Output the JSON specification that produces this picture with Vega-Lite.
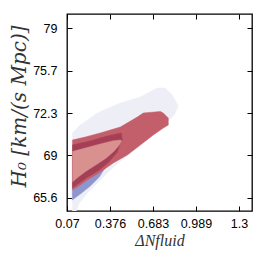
{
  "$schema": "https://vega.github.io/schema/vega-lite/v6.json",
  "width": 185,
  "height": 197,
  "autosize": "none",
  "padding": {"left": 67, "top": 14, "right": 14, "bottom": 55},
  "background": "white",
  "config": {
    "view": {"stroke": "black", "strokeWidth": 1.3},
    "axis": {
      "grid": false,
      "domain": false,
      "tickColor": "black",
      "tickSize": -5,
      "tickWidth": 1,
      "labelFont": "Liberation Sans",
      "labelFontSize": 12.5,
      "labelColor": "black",
      "labelFlush": false,
      "titleFont": "Liberation Serif",
      "titleFontStyle": "italic",
      "titleFontWeight": "normal",
      "titleColor": "#333"
    }
  },
  "data": {
    "values": [
      {"g": "lav", "i": 0, "x": 0.1078, "y": 64.55},
      {"g": "lav", "i": 1, "x": 0.1078, "y": 70.72},
      {"g": "lav", "i": 2, "x": 0.1648, "y": 71.35},
      {"g": "lav", "i": 3, "x": 0.286, "y": 72.3},
      {"g": "lav", "i": 4, "x": 0.45, "y": 73.09},
      {"g": "lav", "i": 5, "x": 0.5925, "y": 73.57},
      {"g": "lav", "i": 6, "x": 0.7137, "y": 74.28},
      {"g": "lav", "i": 7, "x": 0.7707, "y": 74.28},
      {"g": "lav", "i": 8, "x": 0.8206, "y": 73.72},
      {"g": "lav", "i": 9, "x": 0.8633, "y": 72.85},
      {"g": "lav", "i": 10, "x": 0.8348, "y": 72.14},
      {"g": "lav", "i": 11, "x": 0.735, "y": 71.11},
      {"g": "lav", "i": 12, "x": 0.6424, "y": 70.16},
      {"g": "lav", "i": 13, "x": 0.5212, "y": 69.14},
      {"g": "lav", "i": 14, "x": 0.3929, "y": 67.95},
      {"g": "lav", "i": 15, "x": 0.2931, "y": 66.84},
      {"g": "lav", "i": 16, "x": 0.2147, "y": 65.97},
      {"g": "lav", "i": 17, "x": 0.1577, "y": 65.18},
      {"g": "lav", "i": 18, "x": 0.1363, "y": 64.55},

      {"g": "blue", "i": 0, "x": 0.1078, "y": 69.37},
      {"g": "blue", "i": 1, "x": 0.1078, "y": 65.42},
      {"g": "blue", "i": 2, "x": 0.1648, "y": 65.89},
      {"g": "blue", "i": 3, "x": 0.2361, "y": 66.53},
      {"g": "blue", "i": 4, "x": 0.3002, "y": 67.24},
      {"g": "blue", "i": 5, "x": 0.3359, "y": 67.87},
      {"g": "blue", "i": 6, "x": 0.3644, "y": 68.58},
      {"g": "blue", "i": 7, "x": 0.3074, "y": 69.37},

      {"g": "red", "i": 0, "x": 0.1078, "y": 70.16},
      {"g": "red", "i": 1, "x": 0.2004, "y": 70.4},
      {"g": "red", "i": 2, "x": 0.3074, "y": 70.72},
      {"g": "red", "i": 3, "x": 0.45, "y": 71.19},
      {"g": "red", "i": 4, "x": 0.5711, "y": 71.98},
      {"g": "red", "i": 5, "x": 0.6139, "y": 72.3},
      {"g": "red", "i": 6, "x": 0.735, "y": 72.42},
      {"g": "red", "i": 7, "x": 0.7564, "y": 72.3},
      {"g": "red", "i": 8, "x": 0.7921, "y": 71.9},
      {"g": "red", "i": 9, "x": 0.7921, "y": 71.35},
      {"g": "red", "i": 10, "x": 0.7564, "y": 71.11},
      {"g": "red", "i": 11, "x": 0.6851, "y": 70.56},
      {"g": "red", "i": 12, "x": 0.5925, "y": 69.77},
      {"g": "red", "i": 13, "x": 0.5, "y": 68.98},
      {"g": "red", "i": 14, "x": 0.4, "y": 68.35},
      {"g": "red", "i": 15, "x": 0.3074, "y": 67.63},
      {"g": "red", "i": 16, "x": 0.2147, "y": 67.0},
      {"g": "red", "i": 17, "x": 0.1434, "y": 66.45},
      {"g": "red", "i": 18, "x": 0.1078, "y": 66.21},

      {"g": "dark", "i": 0, "x": 0.1078, "y": 69.77},
      {"g": "dark", "i": 1, "x": 0.2361, "y": 70.09},
      {"g": "dark", "i": 2, "x": 0.343, "y": 70.44},
      {"g": "dark", "i": 3, "x": 0.457, "y": 70.72},
      {"g": "dark", "i": 4, "x": 0.4642, "y": 70.16},
      {"g": "dark", "i": 5, "x": 0.4428, "y": 69.69},
      {"g": "dark", "i": 6, "x": 0.4285, "y": 69.21},
      {"g": "dark", "i": 7, "x": 0.3715, "y": 68.46},
      {"g": "dark", "i": 8, "x": 0.3002, "y": 67.79},
      {"g": "dark", "i": 9, "x": 0.2076, "y": 67.16},
      {"g": "dark", "i": 10, "x": 0.1078, "y": 66.37},

      {"g": "pink", "i": 0, "x": 0.1078, "y": 69.25},
      {"g": "pink", "i": 1, "x": 0.2004, "y": 69.53},
      {"g": "pink", "i": 2, "x": 0.3074, "y": 69.85},
      {"g": "pink", "i": 3, "x": 0.3929, "y": 70.09},
      {"g": "pink", "i": 4, "x": 0.45, "y": 70.16},
      {"g": "pink", "i": 5, "x": 0.4606, "y": 70.09},
      {"g": "pink", "i": 6, "x": 0.4428, "y": 69.77},
      {"g": "pink", "i": 7, "x": 0.4072, "y": 69.3},
      {"g": "pink", "i": 8, "x": 0.3501, "y": 68.74},
      {"g": "pink", "i": 9, "x": 0.286, "y": 68.26},
      {"g": "pink", "i": 10, "x": 0.2076, "y": 67.71},
      {"g": "pink", "i": 11, "x": 0.1505, "y": 67.24},
      {"g": "pink", "i": 12, "x": 0.1078, "y": 66.84}
    ]
  },
  "resolve": {"axis": {"x": "independent", "y": "independent"}},
  "layer": [
    {
      "transform": [{"filter": "datum.g === 'lav'"}],
      "mark": {"type": "line", "fill": "#eeeef7", "stroke": "#eeeef7", "strokeWidth": 0.5, "clip": true},
      "encoding": {
        "x": {"field": "x", "type": "quantitative", "scale": {"domain": [0.07, 1.389], "nice": false, "zero": false},
          "axis": {"orient": "bottom", "values": [0.07, 0.3765, 0.683, 0.9895, 1.296], "labelPadding": 11,
            "labelExpr": "datum.value < 0.2 ? '0.07' : datum.value < 0.5 ? '0.376' : datum.value < 0.8 ? '0.683' : datum.value < 1.1 ? '0.989' : '1.3'",
            "title": "ΔNfluid", "titleFontSize": 16, "titleX": 92.5, "titleY": 34, "titleBaseline": "alphabetic", "titleAlign": "center", "titleAnchor": null}},
        "y": {"field": "y", "type": "quantitative", "scale": {"domain": [64.55, 80.13], "nice": false, "zero": false},
          "axis": {"orient": "left", "values": [65.6, 68.95, 72.3, 75.65, 79], "labelPadding": 15,
            "labelExpr": "datum.value < 67 ? '65.6' : datum.value < 70 ? '69' : datum.value < 74 ? '72.3' : datum.value < 77 ? '75.7' : '79'",
            "title": "H₀ [km/(s Mpc)]", "titleFont": "DejaVu Serif", "titleFontSize": 20, "titleX": -48, "titleY": 92, "titleBaseline": "middle", "titleAlign": "center", "titleAngle": -90, "titleAnchor": null}},
        "order": {"field": "i", "type": "quantitative"}
      }
    },
    {
      "transform": [{"filter": "datum.g === 'blue'"}],
      "mark": {"type": "line", "fill": "#8f95cd", "stroke": "#8f95cd", "strokeWidth": 0.5},
      "encoding": {
        "x": {"field": "x", "type": "quantitative", "axis": null},
        "y": {"field": "y", "type": "quantitative", "axis": null},
        "order": {"field": "i", "type": "quantitative"}
      }
    },
    {
      "transform": [{"filter": "datum.g === 'red'"}],
      "mark": {"type": "line", "fill": "#c35f6a", "stroke": "#c35f6a", "strokeWidth": 0.5},
      "encoding": {
        "x": {"field": "x", "type": "quantitative", "axis": null},
        "y": {"field": "y", "type": "quantitative", "axis": null},
        "order": {"field": "i", "type": "quantitative"}
      }
    },
    {
      "transform": [{"filter": "datum.g === 'dark'"}],
      "mark": {"type": "line", "fill": "#a43f56", "stroke": "#a43f56", "strokeWidth": 0.5},
      "encoding": {
        "x": {"field": "x", "type": "quantitative", "axis": null},
        "y": {"field": "y", "type": "quantitative", "axis": null},
        "order": {"field": "i", "type": "quantitative"}
      }
    },
    {
      "transform": [{"filter": "datum.g === 'pink'"}],
      "mark": {"type": "line", "fill": "#d9918f", "stroke": "#d9918f", "strokeWidth": 0.5},
      "encoding": {
        "x": {"field": "x", "type": "quantitative", "axis": null},
        "y": {"field": "y", "type": "quantitative", "axis": null},
        "order": {"field": "i", "type": "quantitative"}
      }
    },
    {
      "transform": [{"filter": "datum.g === 'pink'"}],
      "mark": {"type": "line", "opacity": 0},
      "encoding": {
        "x": {"field": "x", "type": "quantitative",
          "axis": {"orient": "top", "values": [0.07, 0.3765, 0.683, 0.9895, 1.296], "labels": false, "title": null}},
        "y": {"field": "y", "type": "quantitative",
          "axis": {"orient": "right", "values": [65.6, 68.95, 72.3, 75.65, 79], "labels": false, "title": null}},
        "order": {"field": "i", "type": "quantitative"}
      }
    }
  ]
}
